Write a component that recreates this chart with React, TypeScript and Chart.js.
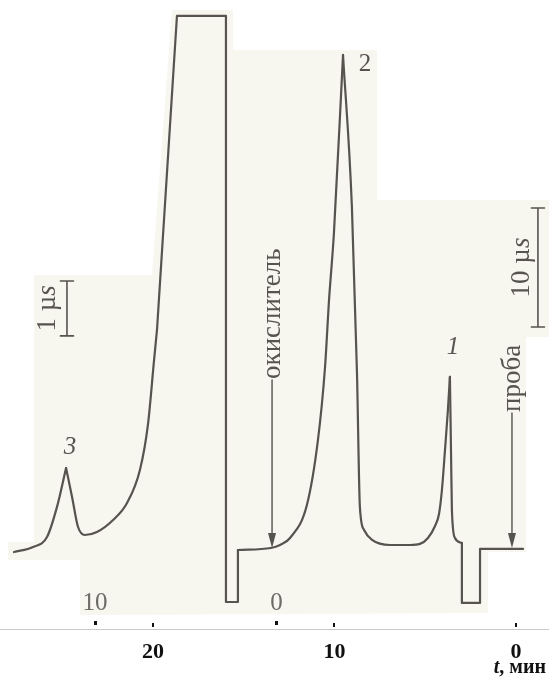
import React, { useEffect, useRef } from "react";
import { Chart, registerables } from "chart.js";

Chart.register(...registerables);

// time axis (minutes, increasing to the left)
const timeTicks = [0, 10, 20];
const secondaryTicks = [0, 10];
const secondaryOffset = 13.2; // minute at which the secondary scale reads 0
const xMin = -1.82;
const xMax = 28.43;
const yMin = -6.81;
const yMax = 46.05;

// chromatogram trace (time in min, signal in µS above baseline), split into pieces
// smooth: baseline -> peak 3
const rise3T = [27.66, 26.61, 25.84, 25.29, 24.79];
const rise3Y = [-0.34, 0.08, 0.92, 3.45, 6.72];
// smooth: peak 3 -> start of the off-scale peak
const fall3T = [24.79, 24.46, 24.13, 23.75, 23.09, 22.2, 21.43, 20.72, 20.28, 19.94, 19.78];
const fall3Y = [6.72, 4.29, 1.76, 1.09, 1.34, 2.35, 3.78, 6.55, 10.34, 15.8, 18.32];
// straight: off-scale plateau and injection dip
const plateauT = [19.78, 18.68, 15.98, 15.98, 15.32, 15.32];
const plateauY = [18.32, 44.71, 44.71, -4.54, -4.54, -0.17];
// smooth: baseline -> peak 2
const rise2T = [15.32, 13.5, 13.0, 12.45, 11.52, 10.91, 10.52, 10.3, 10.03, 9.53];
const rise2Y = [-0.17, 0.0, 0.25, 0.84, 3.61, 9.08, 15.21, 20.84, 26.47, 41.43];
// smooth: peak 2 -> peak 1
const fall2T = [9.53, 9.04, 8.76, 8.6, 8.37, 7.93, 6.94, 5.84, 5.29, 4.85, 4.46, 4.24, 4.08, 3.91, 3.75, 3.64];
const fall2Y = [41.43, 28.66, 14.71, 3.45, 1.51, 0.67, 0.25, 0.25, 0.34, 0.84, 1.85, 2.86, 4.87, 8.24, 11.6, 14.37];
// smooth: peak 1 -> baseline
const fall1T = [3.64, 3.58, 3.53, 3.36, 2.98];
const fall1Y = [14.37, 8.24, 3.19, 0.84, 0.42];
// straight: sample injection dip
const dipT = [2.98, 2.98, 1.98, 1.98, -0.39];
const dipY = [0.42, -4.62, -4.62, -0.08, -0.08];

// injection arrows
const oxidantArrowT = [13.44, 13.44];
const oxidantArrowY = [14.12, 0.0];
const sampleArrowT = [0.22, 0.22];
const sampleArrowY = [11.34, 0.0];
const arrowLabels = ["окислитель", "проба"];

// scale bars
const smallBarT = [24.74];
const smallBarY = [17.82, 22.44];
const bigBarT = [-1.21];
const bigBarY = [18.57, 28.57];
const barCapHalf = 0.36;
const barLabels = ["1 µ", "10 µ"];

// peak numbers
const peakLabelT = [24.57, 8.32, 3.47];
const peakLabelY = [8.49, 40.67, 16.89];
const peakLabelText = ["3", "2", "1"];

const INK = "#57534e";
const SERIF = "'Liberation Serif', 'DejaVu Serif', serif";

function barPath(t: number, y0: number, y1: number) {
  return [
    { x: t + barCapHalf, y: y1 },
    { x: t - barCapHalf, y: y1 },
    { x: t, y: y1 },
    { x: t, y: y0 },
    { x: t + barCapHalf, y: y0 },
    { x: t - barCapHalf, y: y0 },
  ];
}

const paperPlugin = {
  id: "paper",
  beforeDraw(chart: any) {
    const ctx = chart.ctx;
    ctx.save();
    ctx.fillStyle = "#ffffff";
    ctx.fillRect(0, 0, chart.width, chart.height);
    ctx.fillStyle = "#f7f6ef";
    const poly = [
      [172, 10], [233, 10], [233, 50], [377, 50], [377, 200], [549, 200], [549, 337], [526, 337],
      [526, 552], [488, 552], [488, 613], [80, 615], [80, 560], [8, 560], [8, 542], [34, 542],
      [34, 275], [152, 275],
    ];
    ctx.beginPath();
    poly.forEach(([px, py], i) => (i ? ctx.lineTo(px, py) : ctx.moveTo(px, py)));
    ctx.closePath();
    ctx.fill();
    ctx.restore();
  },
};

const annotPlugin = {
  id: "annot",
  afterDatasetsDraw(chart: any) {
    const ctx = chart.ctx;
    const xs = chart.scales.x;
    const ys = chart.scales.y;
    const px = (t: number) => xs.getPixelForValue(t);
    const py = (v: number) => ys.getPixelForValue(v);
    ctx.save();
    ctx.fillStyle = INK;
    ctx.strokeStyle = INK;

    // arrowheads + rotated labels
    const arrows = [
      [oxidantArrowT, oxidantArrowY],
      [sampleArrowT, sampleArrowY],
    ];
    arrows.forEach(([ta, va], i) => {
      const x = px(ta[1]);
      const yTip = py(va[1]);
      ctx.beginPath();
      ctx.moveTo(x, yTip);
      ctx.lineTo(x - 4, yTip - 15);
      ctx.lineTo(x + 4, yTip - 15);
      ctx.closePath();
      ctx.fill();
      const yTop = py(va[0]);
      ctx.save();
      ctx.translate(x, yTop - 1);
      ctx.rotate(-Math.PI / 2);
      ctx.font = `27px ${SERIF}`;
      ctx.textAlign = "left";
      ctx.textBaseline = "middle";
      ctx.fillText(arrowLabels[i], 0, 1);
      ctx.restore();
    });

    // scale bar labels
    const bars = [
      [smallBarT[0], (smallBarY[0] + smallBarY[1]) / 2, -19],
      [bigBarT[0], (bigBarY[0] + bigBarY[1]) / 2, -16],
    ];
    bars.forEach(([t, v, off], i) => {
      ctx.save();
      ctx.translate(px(t) + off, py(v));
      ctx.rotate(-Math.PI / 2);
      ctx.textBaseline = "middle";
      ctx.font = `27px ${SERIF}`;
      const w1 = ctx.measureText(barLabels[i]).width;
      ctx.font = `italic 27px ${SERIF}`;
      const w2 = ctx.measureText("s").width;
      const start = -(w1 + w2) / 2;
      ctx.textAlign = "left";
      ctx.font = `27px ${SERIF}`;
      ctx.fillText(barLabels[i], start, 0);
      ctx.font = `italic 27px ${SERIF}`;
      ctx.fillText("s", start + w1, 0);
      ctx.restore();
    });

    // peak numbers
    peakLabelText.forEach((txt, i) => {
      ctx.font = `${txt === "2" ? "" : "italic "}25px ${SERIF}`;
      ctx.textAlign = "center";
      ctx.textBaseline = "middle";
      ctx.fillText(txt, px(peakLabelT[i]), py(peakLabelY[i]));
    });

    // secondary time scale labels
    ctx.fillStyle = "#6f6c67";
    ctx.font = `25px ${SERIF}`;
    ctx.textAlign = "center";
    ctx.textBaseline = "middle";
    secondaryTicks.forEach((s) => {
      ctx.fillText(String(s), px(s + secondaryOffset), 603);
    });

    // tick dots
    ctx.fillStyle = "#111";
    const base = chart.chartArea.bottom;
    timeTicks.forEach((t) => ctx.fillRect(Math.round(px(t)) - 1, base - 6, 2, 4));
    secondaryTicks.forEach((s) => ctx.fillRect(Math.round(px(s + secondaryOffset)) - 1, base - 8, 3, 4));

    // axis title
    ctx.fillStyle = "#111";
    ctx.textBaseline = "alphabetic";
    ctx.textAlign = "left";
    ctx.font = `bold 20px ${SERIF}`;
    const restW = ctx.measureText(", мин").width;
    ctx.font = `italic bold 20px ${SERIF}`;
    const tW = ctx.measureText("t").width;
    const xEnd = 546;
    ctx.fillText("t", xEnd - restW - tW, 673);
    ctx.font = `bold 20px ${SERIF}`;
    ctx.fillText(", мин", xEnd - restW, 673);
    ctx.restore();
  },
};

export default function App() {
  const ref = useRef<HTMLCanvasElement | null>(null);
  useEffect(() => {
    if (!ref.current) return;
    const pts = (ts: number[], vs: number[]) => ts.map((t, i) => ({ x: t, y: vs[i] }));
    const lineDs = (data: any[], width: number, smooth: boolean) => ({
      data,
      showLine: true,
      borderColor: INK,
      borderWidth: width,
      pointRadius: 0,
      tension: smooth ? 0.4 : 0,
      cubicInterpolationMode: smooth ? "monotone" : "default",
      borderJoinStyle: "round",
      borderCapStyle: "round",
      fill: false,
    });
    const chart = new Chart(ref.current, {
      type: "scatter",
      data: {
        datasets: [
          lineDs(pts(rise3T, rise3Y), 2.2, true),
          lineDs(pts(fall3T, fall3Y), 2.2, true),
          lineDs(pts(plateauT, plateauY), 2.2, false),
          lineDs(pts(rise2T, rise2Y), 2.2, true),
          lineDs(pts(fall2T, fall2Y), 2.2, true),
          lineDs(pts(fall1T, fall1Y), 2.2, true),
          lineDs(pts(dipT, dipY), 2.2, false),
          lineDs(oxidantArrowT.map((t, i) => ({ x: t, y: oxidantArrowY[i] + (i ? 1.2 : 0) })), 1.4, false),
          lineDs(sampleArrowT.map((t, i) => ({ x: t, y: sampleArrowY[i] + (i ? 1.2 : 0) })), 1.4, false),
          lineDs(barPath(smallBarT[0], smallBarY[0], smallBarY[1]), 1.6, false),
          lineDs(barPath(bigBarT[0], bigBarY[0], bigBarY[1]), 1.6, false),
        ],
      },
      options: {
        animation: false,
        responsive: false,
        maintainAspectRatio: false,
        layout: { padding: 0 },
        plugins: { legend: { display: false }, tooltip: { enabled: false }, title: { display: false } },
        scales: {
          x: {
            type: "linear",
            reverse: true,
            min: xMin,
            max: xMax,
            afterBuildTicks: (s: any) => {
              s.ticks = timeTicks.map((v) => ({ value: v }));
            },
            afterFit: (s: any) => {
              s.height = 48;
            },
            grid: { display: false, drawTicks: false },
            border: { display: true, color: "#c9c9c9", dash: [2, 3], width: 1 },
            ticks: {
              color: "#111",
              padding: 10,
              font: { family: SERIF, size: 22, weight: "bold" },
              callback: (v: any) => String(v),
            },
          },
          y: { type: "linear", display: false, min: yMin, max: yMax },
        },
      },
      plugins: [paperPlugin, annotPlugin],
    } as any);
    return () => chart.destroy();
  }, []);
  return (
    <div style={{ position: "absolute", left: 0, top: 0, width: 549, height: 677 }}>
      <canvas ref={ref} width={549} height={677} style={{ width: 549, height: 677, display: "block" }} />
    </div>
  );
}
